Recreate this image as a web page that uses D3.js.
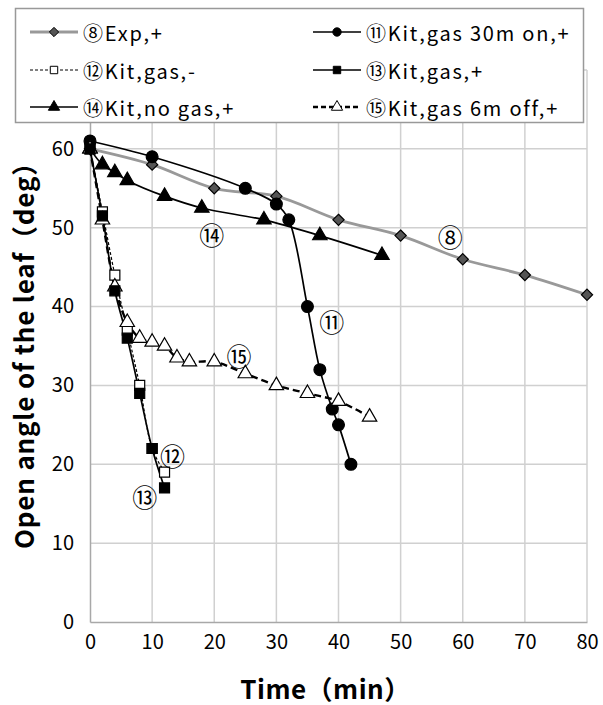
<!DOCTYPE html>
<html>
<head>
<meta charset="utf-8">
<script src="https://cdn.jsdelivr.net/npm/d3@7"></script>
<style>
  body { margin: 0; background: #fff; }
  svg { font-family: "Noto Sans CJK JP", "Noto Sans", sans-serif; }
</style>
</head>
<body>
<div id="chart"></div>
<script>
// data: [time (min), open angle (deg)]
var exp8     = [[0,60],[10,58],[20,55],[30,54],[40,51],[50,49],[60,46],[70,44],[80,41.5]];
var kit11    = [[0,61],[10,59],[25,55],[30,53],[32,51],[35,40],[37,32],[39,27],[40,25],[42,20]];
var kit12    = [[0,60],[2,52],[4,44],[6,37],[8,30],[10,22],[12,19]];
var kit13    = [[0,60],[2,51.5],[4,42],[6,36],[8,29],[10,22],[12,17]];
var kit14    = [[0,60],[2,58],[4,57],[6,56],[12,54],[18,52.5],[28,51],[37,49],[47,46.5]];
var kit15    = [[0,60],[2,51],[4,42.5],[6,38],[8,36],[10,35.5],[12,35],[14,33.5],[16,33],[20,33],[25,31.5],[30,30],[35,29],[40,28],[45,26]];

var xTicks = [0,10,20,30,40,50,60,70,80];
var yTicks = [0,10,20,30,40,50,60];

var seriesNames = ["⑧Exp,+", "⑪Kit,gas 30m on,+", "⑫Kit,gas,-", "⑬Kit,gas,+", "⑭Kit,no gas,+", "⑮Kit,gas 6m off,+"];

// label tags placed next to the lines: [text, time, angle]
var tags = [["⑧",58,48.9],["⑪",38.9,38.2],["⑫",13.3,21.2],["⑬",8.8,16],["⑭",19.6,49.2],["⑮",24,33.9]];

var full_w = 603, full_h = 705;
var margin = {top: 70, right: 16, bottom: 83, left: 90};
var width = full_w - margin.left - margin.right;
var height = full_h - margin.top - margin.bottom;

var x = d3.scaleLinear().domain([0,80]).range([0, width]);
var y = d3.scaleLinear().domain([0,70]).range([height, 0]);

var svg = d3.select("#chart").append("svg")
    .attr("width", full_w).attr("height", full_h);
var g = svg.append("g").attr("transform", "translate(" + margin.left + "," + margin.top + ")");

// grid
g.append("g").selectAll("line").data(xTicks.slice(1)).enter().append("line")
  .attr("x1", d => x(d)).attr("x2", d => x(d)).attr("y1", 0).attr("y2", height)
  .attr("stroke", "#d0d0d0").attr("stroke-width", 1.5);
g.append("g").selectAll("line").data(yTicks.slice(1).concat([70])).enter().append("line")
  .attr("x1", 0).attr("x2", width).attr("y1", d => y(d)).attr("y2", d => y(d))
  .attr("stroke", "#d0d0d0").attr("stroke-width", 1.5);

// axes
var xAxis = g.append("g").attr("transform", "translate(0," + height + ")")
  .call(d3.axisBottom(x).tickValues(xTicks).tickSize(0).tickPadding(13));
var yAxis = g.append("g")
  .call(d3.axisLeft(y).tickValues(yTicks).tickSize(0).tickPadding(16));
[xAxis, yAxis].forEach(function(a){
  a.select(".domain").attr("stroke", "#a8a8a8").attr("stroke-width", 1.5);
  a.selectAll("text").attr("font-size", 20).attr("fill", "#000")
    .attr("font-family", "\"Noto Sans CJK JP\", sans-serif");
});

var line = d3.line().x(d => x(d[0])).y(d => y(d[1])).curve(d3.curveCatmullRom.alpha(0.5));

var styles = [
  {data: exp8,  stroke: "#999", sw: 2.8, dash: null,  legDash: null,  mark: "diamond", fill: "#555"},
  {data: kit11, stroke: "#000", sw: 1.7, dash: null,  legDash: null,  mark: "circle",  fill: "#000"},
  {data: kit12, stroke: "#000", sw: 1.2, dash: "3,2", legDash: "3,2", mark: "square",  fill: "#fff"},
  {data: kit13, stroke: "#000", sw: 1.7, dash: null,  legDash: null,  mark: "square",  fill: "#000"},
  {data: kit14, stroke: "#000", sw: 1.7, dash: null,  legDash: null,  mark: "triangle",fill: "#000"},
  {data: kit15, stroke: "#000", sw: 2.4, dash: "7,4", legDash: "5,3", mark: "triangle",fill: "#fff"}
];

var symbolTypes = {diamond: d3.symbolDiamond2, circle: d3.symbolCircle, square: d3.symbolSquare, triangle: d3.symbolTriangle};
var symbolSizes = {diamond: 80, circle: 110, square: 100, triangle: 90};

// draw order: back to front
var order = [0, 4, 1, 2, 5, 3];
order.forEach(function(i){
  var s = styles[i];
  g.append("path").datum(s.data)
    .attr("d", line).attr("fill", "none")
    .attr("stroke", s.stroke).attr("stroke-width", s.sw)
    .attr("stroke-dasharray", s.dash);
});
order.forEach(function(i){
  var s = styles[i];
  g.append("g").selectAll("path").data(s.data).enter().append("path")
    .attr("transform", d => "translate(" + x(d[0]) + "," + y(d[1]) + ")")
    .attr("d", d3.symbol().type(symbolTypes[s.mark]).size(symbolSizes[s.mark])())
    .attr("fill", s.fill).attr("stroke", "#000").attr("stroke-width", 1.2);
});

// tags
g.append("g").selectAll("text").data(tags).enter().append("text")
  .attr("x", d => x(d[1])).attr("y", d => y(d[2]))
  .attr("text-anchor", "middle").attr("dominant-baseline", "central")
  .attr("font-size", 25).text(d => d[0]);

// axis titles
svg.append("text").attr("x", margin.left + width/2 - 13).attr("y", 699)
  .attr("text-anchor", "middle").attr("font-size", 26).attr("font-weight", "bold")
  .attr("letter-spacing", 0.5)
  .text("Time（min）");
svg.append("text").attr("transform", "translate(34,349) rotate(-90)")
  .attr("text-anchor", "middle").attr("font-size", 26).attr("font-weight", "bold")
  .attr("letter-spacing", 0.8)
  .text("Open angle of the leaf（deg）");

// legend
var leg = svg.append("g");
leg.append("rect").attr("x", 15.5).attr("y", 8.5).attr("width", 568).attr("height", 114)
  .attr("fill", "#fff").attr("stroke", "#999").attr("stroke-width", 1.5);
var legPos = [[30,32],[313,32],[30,70],[313,70],[30,107],[313,107]];
seriesNames.forEach(function(name, i){
  var s = styles[i], p = legPos[i];
  var it = leg.append("g").attr("transform", "translate(" + p[0] + "," + p[1] + ")");
  it.append("line").attr("x1", 0).attr("x2", 48).attr("y1", 0).attr("y2", 0)
    .attr("stroke", s.stroke).attr("stroke-width", s.sw)
    .attr("stroke-dasharray", s.legDash);
  it.append("path").attr("transform", "translate(24,0)")
    .attr("d", d3.symbol().type(symbolTypes[s.mark]).size(55)())
    .attr("fill", s.fill).attr("stroke", "#000").attr("stroke-width", 1);
  it.append("text").attr("x", 53).attr("y", 0).attr("dominant-baseline", "central")
    .attr("font-size", 20).attr("letter-spacing", 1.8).text(name);
});
</script>
</body>
</html>
